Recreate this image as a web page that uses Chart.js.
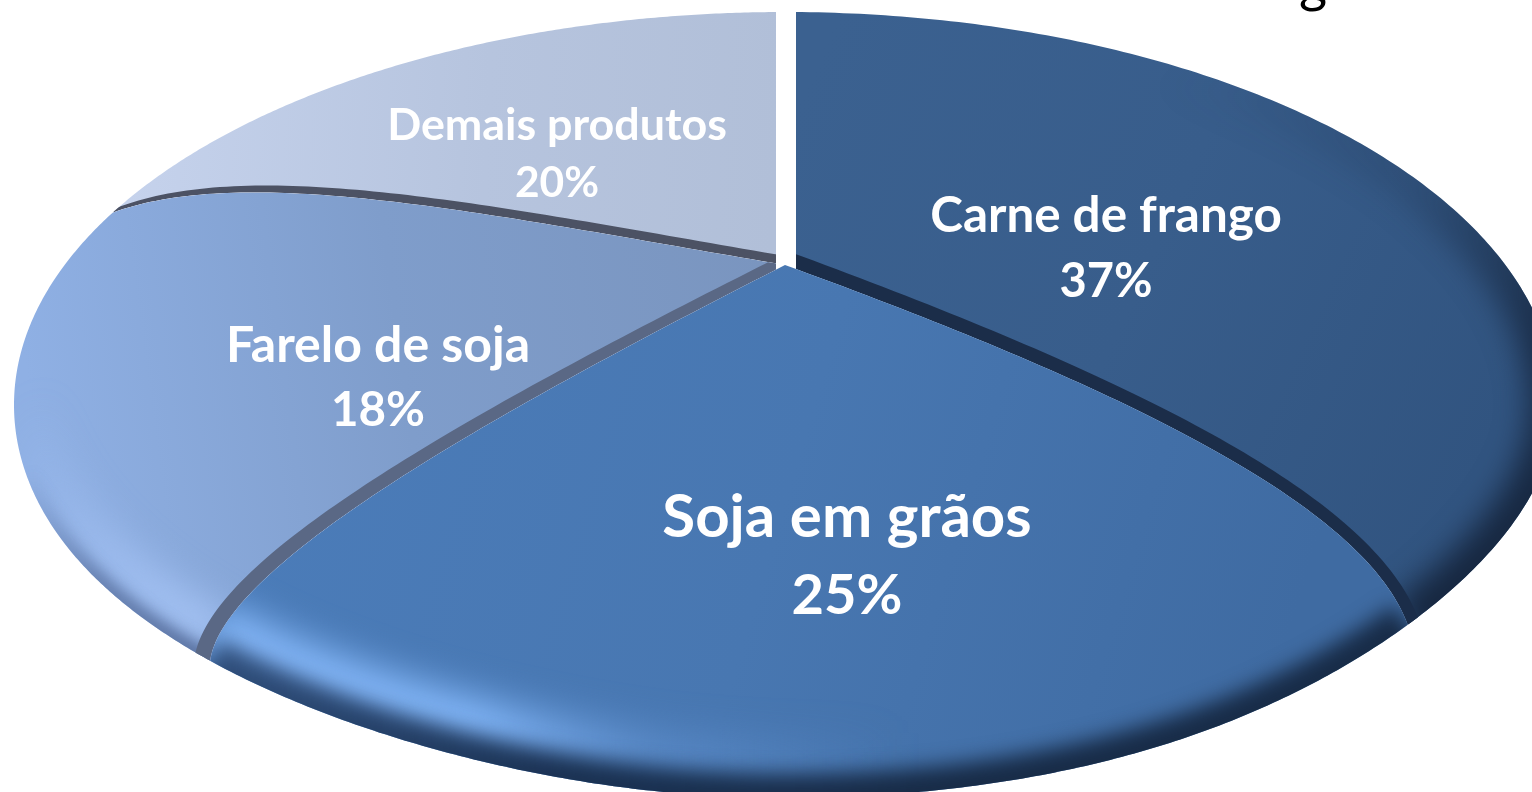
<!DOCTYPE html>
<html lang="pt">
<head>
<meta charset="utf-8">
<title>Exportações</title>
<script src="https://cdn.jsdelivr.net/npm/chart.js@4"></script>
<style>html,body{margin:0;padding:0;background:#fff;overflow:hidden}canvas{display:block}</style>
</head>
<body>
<canvas id="c" width="1532" height="792"></canvas>
<script>
const categories = ["Carne de frango", "Soja em grãos", "Farelo de soja", "Demais produtos"];
const shares = [37, 25, 18, 20];

/* ---- perspective look: how a pie angle lands on the tilted, draped disc ---- */
const DISC = {cx: 785, cy: 405, rx: 771, ry: 393, apex: [785, 265]};
const rad = d => d * Math.PI / 180;
const WARP = [ // pie angle → rim angle, and bend of the spoke reaching it
  {deg: 0,   phi: 0,     c1: [0, -80],     c2: [0, 80]},
  {deg: 133.2, phi: 124, c1: [315, 115],   c2: [-45, -125]},
  {deg: 223.2, phi: 229.4, c1: [-285, 145],  c2: [14, -98]},
  {deg: 288, phi: 299.3, c1: [-295, -50],  c2: [137, -50]},
  {deg: 360, phi: 360,   c1: [0, -80],     c2: [0, 80]}
];
function warp(deg) {
  deg = Math.max(0, Math.min(360, deg));
  for (let i = 0; i < WARP.length - 1; i++) {
    const a = WARP[i], b = WARP[i + 1];
    if (deg <= b.deg + 1e-6) {
      const t = (deg - a.deg) / (b.deg - a.deg), m = (p, q) => p + (q - p) * t;
      return {phi: m(a.phi, b.phi), c1: [m(a.c1[0], b.c1[0]), m(a.c1[1], b.c1[1])], c2: [m(a.c2[0], b.c2[0]), m(a.c2[1], b.c2[1])]};
    }
  }
  return WARP[WARP.length - 1];
}
function rimPoint(phi) {
  const s = Math.sin(rad(phi)), c = Math.cos(rad(phi));
  let tuck = 1;
  if (c < 0) tuck = s > 0 ? 1 - 0.12 * s * s * c * c : 1 - 0.1 * c * c * c * c;
  return [DISC.cx + DISC.rx * s * tuck, DISC.cy - DISC.ry * c];
}
function spokePoints(deg) {
  const w = warp(deg), A = DISC.apex, E = rimPoint(w.phi);
  const P1 = [A[0] + w.c1[0], A[1] + w.c1[1]], P2 = [E[0] + w.c2[0], E[1] + w.c2[1]];
  const out = [];
  for (let i = 0; i <= 80; i++) {
    const t = i / 80, u = 1 - t;
    out.push([0, 1].map(k => u*u*u*A[k] + 3*u*u*t*P1[k] + 3*u*t*t*P2[k] + t*t*t*E[k]));
  }
  return out;
}
function rimPoints(d0, d1) {
  const a = warp(d0).phi, b = warp(d1).phi, out = [];
  for (let i = 0; i <= 200; i++) out.push(rimPoint(a + (b - a) * i / 200));
  return out;
}
function tracePoly(ctx, pts, close) {
  ctx.beginPath();
  pts.forEach((p, i) => i ? ctx.lineTo(p[0], p[1]) : ctx.moveTo(p[0], p[1]));
  if (close) ctx.closePath();
}
function band(ctx, pts, fn, color) { // strip lying along a spoke, on its upper side
  const top = pts.map((p, i) => {
    const q0 = pts[Math.max(0, i - 1)], q1 = pts[Math.min(pts.length - 1, i + 1)];
    let dx = q1[0] - q0[0], dy = q1[1] - q0[1]; const L = Math.hypot(dx, dy) || 1; dx /= L; dy /= L;
    let nx = dy, ny = -dx; if (ny > 0) { nx = -nx; ny = -ny; }
    const w = fn(i / (pts.length - 1));
    return [p[0] + nx * w, p[1] + ny * w];
  });
  tracePoly(ctx, pts.concat(top.reverse()), true);
  ctx.fillStyle = color; ctx.fill();
}
function blurStroke(ctx, pts, width, blur, style) {
  ctx.save();
  ctx.filter = 'blur(' + blur + 'px)';
  tracePoly(ctx, pts, false);
  ctx.lineWidth = width; ctx.strokeStyle = style; ctx.lineCap = 'butt'; ctx.lineJoin = 'round';
  ctx.stroke();
  ctx.restore();
}
function lin(ctx, x0, y0, x1, y1, stops) {
  const g = ctx.createLinearGradient(x0, y0, x1, y1);
  stops.forEach(s => g.addColorStop(s[0], s[1]));
  return g;
}
const PAINT = [
  function carne(ctx, sp0, sp1, rim) {
    ctx.beginPath(); ctx.rect(796, 0, 800, 800); ctx.clip();
    tracePoly(ctx, [DISC.apex].concat(rim, sp1.slice().reverse()), true); ctx.clip();
    ctx.fillStyle = lin(ctx, 800, 100, 1500, 420, [[0, '#3b6190'], [0.5, '#385d8b'], [1, '#315480']]); ctx.fillRect(780, 0, 800, 800);
    blurStroke(ctx, rim, 54, 15, lin(ctx, 1200, 60, 1480, 600, [[0, 'rgba(22,38,62,0)'], [0.35, 'rgba(22,38,62,.2)'], [0.7, 'rgba(22,38,62,.9)'], [1, 'rgba(22,38,62,1)']]));
    band(ctx, sp1, t => 14 - 2 * t, '#1b2d49');
  },
  function soja(ctx, sp0, sp1, rim) {
    tracePoly(ctx, sp0.concat(rim, sp1.slice().reverse()), true); ctx.clip();
    ctx.fillStyle = lin(ctx, 300, 300, 1300, 600, [[0, '#4b7cb9'], [0.5, '#4877b1'], [1, '#3f6ba2']]); ctx.fillRect(0, 0, 1532, 792);
    blurStroke(ctx, rim.map(p => [p[0], p[1] - 36]), 52, 18, lin(ctx, 200, 0, 900, 0, [[0, 'rgba(135,185,250,1)'], [0.4, 'rgba(130,182,248,1)'], [0.65, 'rgba(110,160,225,.4)'], [1, 'rgba(110,160,225,0)']]));
    blurStroke(ctx, rim, 48, 10, lin(ctx, 200, 0, 1400, 0, [[0, 'rgba(28,52,90,.7)'], [0.3, 'rgba(24,46,78,.95)'], [0.6, 'rgba(24,44,72,1)'], [1, 'rgba(24,44,72,1)']]));
  },
  function farelo(ctx, sp0, sp1, rim) {
    ctx.beginPath(); ctx.rect(0, 0, 776, 800); ctx.clip();
    tracePoly(ctx, sp0.concat(rim, sp1.slice().reverse()), true); ctx.clip();
    ctx.fillStyle = lin(ctx, 30, 400, 770, 300, [[0, '#8fb0e4'], [0.5, '#7f9dcb'], [1, '#7a95bf']]); ctx.fillRect(0, 0, 800, 800);
    blurStroke(ctx, rim.map(p => [p[0] + 14, p[1] - 24]), 40, 18, lin(ctx, 0, 440, 250, 660, [[0, 'rgba(165,195,245,0)'], [0.6, 'rgba(165,195,245,.85)'], [1, 'rgba(168,198,246,1)']]));
    blurStroke(ctx, rim, 20, 7, lin(ctx, 30, 470, 200, 660, [[0, 'rgba(60,80,125,0)'], [0.5, 'rgba(60,80,125,.5)'], [1, 'rgba(60,80,125,.65)']]));
    band(ctx, sp0, t => 10 + 6 * t, '#5a6885');
  },
  function demais(ctx, sp0, sp1, rim) {
    ctx.beginPath(); ctx.rect(0, 0, 776, 800); ctx.clip();
    tracePoly(ctx, sp0.concat(rim, [DISC.apex]), true); ctx.clip();
    ctx.fillStyle = lin(ctx, 130, 150, 775, 180, [[0, '#c5d2ec'], [0.55, '#b6c4de'], [1, '#b1bfd8']]); ctx.fillRect(0, 0, 800, 800);
    band(ctx, sp0, t => 9 - 6 * t * t * t, '#4c5264');
  }
];
/* the library's pie arcs: their angles are drawn on the tilted disc */
Chart.ArcElement.prototype.draw = function (ctx) {
  const d0 = (this.startAngle + Math.PI / 2) * 180 / Math.PI;
  const d1 = (this.endAngle + Math.PI / 2) * 180 / Math.PI;
  const sp0 = spokePoints(d0), sp1 = spokePoints(d1), rim = rimPoints(d0, d1);
  ctx.save();
  PAINT[this.sliceIndex](ctx, sp0, sp1, rim);
  ctx.restore();
};

const LABELS = [ // name size, value size, centre x, first baseline, second baseline
  {size: 49.4, size2: 47, x: 1106, y1: 232, y2: 297},
  {size: 60, size2: 56, x: 847, y1: 537, y2: 614},
  {size: 50, size2: 47.5, x: 378, y1: 362, y2: 426},
  {size: 44.8, size2: 42.5, x: 557, y1: 140, y2: 197}
];
const HEAD_GLYPHS = [['o', 1193, -0.5], ['o', 1228, -0.5], ['o', 1277, -0.5], ['g', 1313, 1.5], ['o', 1368, -0.5], ['o', 1417, -0.5], ['o', 1453, -0.5], ['o', 1530, -0.5]];
const sliceLabels = {
  id: 'sliceLabels',
  beforeDatasetsDraw(chart) {
    chart.getDatasetMeta(0).data.forEach((el, i) => { el.sliceIndex = i; });
  },
  afterDraw(chart) {
    const ctx = chart.ctx;
    ctx.save();
    ctx.textAlign = 'center'; ctx.textBaseline = 'alphabetic';
    ctx.fillStyle = '#000'; ctx.font = '54px Lato';
    HEAD_GLYPHS.forEach(g => ctx.fillText(g[0], g[1], g[2]));
    ctx.fillStyle = '#fff';
    categories.forEach((name, i) => {
      const L = LABELS[i];
      ctx.font = 'bold ' + L.size + 'px Lato';
      ctx.fillText(name, L.x, L.y1);
      ctx.font = 'bold ' + L.size2 + 'px Lato';
      ctx.fillText(shares[i] + '%', L.x, L.y2);
    });
    ctx.restore();
  }
};
new Chart(document.getElementById('c'), {
  type: 'pie',
  data: {labels: categories, datasets: [{data: shares, backgroundColor: ['#375c8a', '#4877b1', '#7f9dcb', '#b6c4de'], borderWidth: 0}]},
  options: {
    responsive: false, animation: false, events: [],
    plugins: {legend: {display: false}, tooltip: {enabled: false}, title: {display: false}}
  },
  plugins: [sliceLabels]
});
</script>
</body>
</html>
